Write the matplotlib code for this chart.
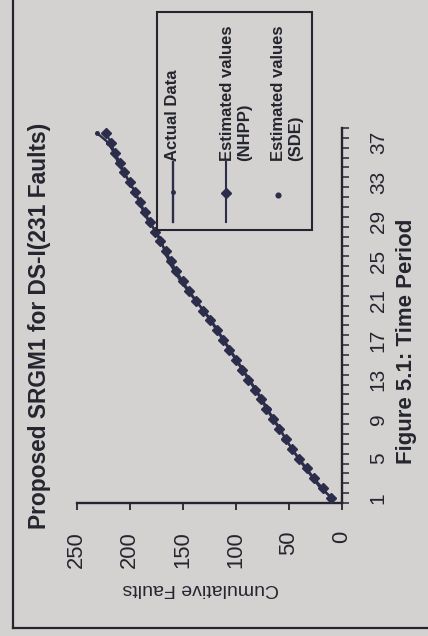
import numpy as np
import matplotlib
matplotlib.use("Agg")
import matplotlib.pyplot as plt
from matplotlib.patches import Rectangle

plt.rcParams['font.family'] = ['Liberation Sans', 'DejaVu Sans']

# ---------------- data ----------------
periods = list(range(1, 39))
actual = [9, 20, 27, 34, 41, 47, 53, 58, 64, 70, 75, 81, 87, 93, 99, 105, 111,
          117, 123, 130, 138, 145, 152, 158, 163, 167, 170, 175, 182, 187, 191,
          195, 200, 206, 211, 215, 220, 231]
nhpp = [10, 18, 26, 33, 40, 47, 53, 59, 65, 71, 76, 82, 88, 94, 100, 106, 112,
        118, 124, 131, 137, 144, 150, 156, 161, 166, 171, 176, 181, 186, 190,
        195, 200, 205, 209, 214, 218, 222]
sde = [9, 19, 27, 34, 41, 47, 54, 59, 65, 70, 76, 81, 87, 93, 99, 105, 111,
       117, 124, 130, 137, 143, 150, 155, 160, 165, 170, 176, 181, 186, 190,
       195, 200, 205, 210, 214, 219, 223]
fault_ticks = [0, 50, 100, 150, 200, 250]
period_ticks = [1, 5, 9, 13, 17, 21, 25, 29, 33, 37]

title = "Proposed SRGM1 for DS-I(231 Faults)"
xlabel = "Figure 5.1: Time Period"
ylabel = "Cumulative Faults"
legend_labels = ["Actual Data", "Estimated values\n(NHPP)", "Estimated values\n(SDE)"]

# ---------------- style ----------------
W, H = 428, 636
bg = '#d4d2d0'
ink = '#25252f'
curve = '#2b2d4a'

fig = plt.figure(figsize=(W / 100, H / 100), dpi=100, facecolor=bg)

# chart is shown rotated 90 deg counter-clockwise: faults run right->left, periods bottom->top
ax = fig.add_axes([76.7 / W, 1 - 503 / H, (341.7 - 76.7) / W, (503 - 128) / H])
ax.set_facecolor('none')
ax.plot(actual, periods, color=curve, lw=1.7, marker='o', ms=2.5, zorder=3)
ax.plot(nhpp, periods, color=curve, lw=1.5, marker='D', ms=4.8, zorder=4)
ax.plot(sde, periods, color=curve, lw=0, marker='o', ms=3.4, zorder=5)

ax.set_xlim(250, 0)
ax.set_ylim(0.5, 38.5)
for s in ['top', 'left']:
    ax.spines[s].set_visible(False)
for s in ['bottom', 'right']:
    ax.spines[s].set_color(ink)
    ax.spines[s].set_linewidth(1.7)

ax.yaxis.tick_right()
ax.set_xticks(fault_ticks, [str(v) for v in fault_ticks], rotation=90,
              fontsize=15.8, color=ink)
ax.set_yticks(period_ticks, [str(v) for v in period_ticks], rotation=90,
              va='center', fontsize=15, color=ink)
ax.set_yticks(np.arange(0.5, 39, 1), minor=True)
ax.tick_params(axis='x', length=5, width=1.3, color=ink, pad=15, direction='out')
ax.tick_params(axis='y', which='major', length=0, pad=19.5, right=True, left=False)
ax.tick_params(axis='y', which='minor', length=5, width=1.1, color=ink,
               direction='out', right=True, left=False)

# ---------------- overlay in pixel coords ----------------
ov = fig.add_axes([0, 0, 1, 1], zorder=10)
ov.set_facecolor('none')
ov.set_xlim(0, W)
ov.set_ylim(H, 0)
ov.axis('off')

# outer chart frame
ov.plot([13, 13], [0, 628], color=ink, lw=1.6)
ov.plot([13, W], [628, 628], color=ink, lw=1.6)

ov.text(40, 325.5, title, rotation=90, ha='center', va='center',
        fontsize=16.4, fontweight='bold', color=ink)
ov.text(407, 341, xlabel, rotation=90, ha='center', va='center',
        fontsize=16, fontweight='bold', color=ink)
ov.text(201, 589, ylabel, rotation=180, ha='center', va='center',
        fontsize=14, color=ink)

# legend (rotated with the chart)
ov.add_patch(Rectangle((157, 12), 155, 218, facecolor=bg, edgecolor=ink, lw=1.5, zorder=2))
ov.plot([173, 173, 173], [162, 192, 222], color=curve, lw=1.7, marker='o', ms=2.5,
        markevery=[1], zorder=3)
ov.plot([226, 226, 226], [162, 193, 222], color=curve, lw=1.5, marker='D', ms=4.8,
        markevery=[1], zorder=3)
ov.plot([278], [195], color=curve, lw=0, marker='o', ms=3.4, zorder=3)
for xc, lab in zip([173, 236, 287], legend_labels):
    ov.text(xc, 161, lab, rotation=90, ha='center', va='bottom', multialignment='left',
            fontsize=12, fontweight='bold', color=ink, linespacing=1.15, zorder=4)

fig.savefig('out.png', dpi=100, facecolor=bg)
